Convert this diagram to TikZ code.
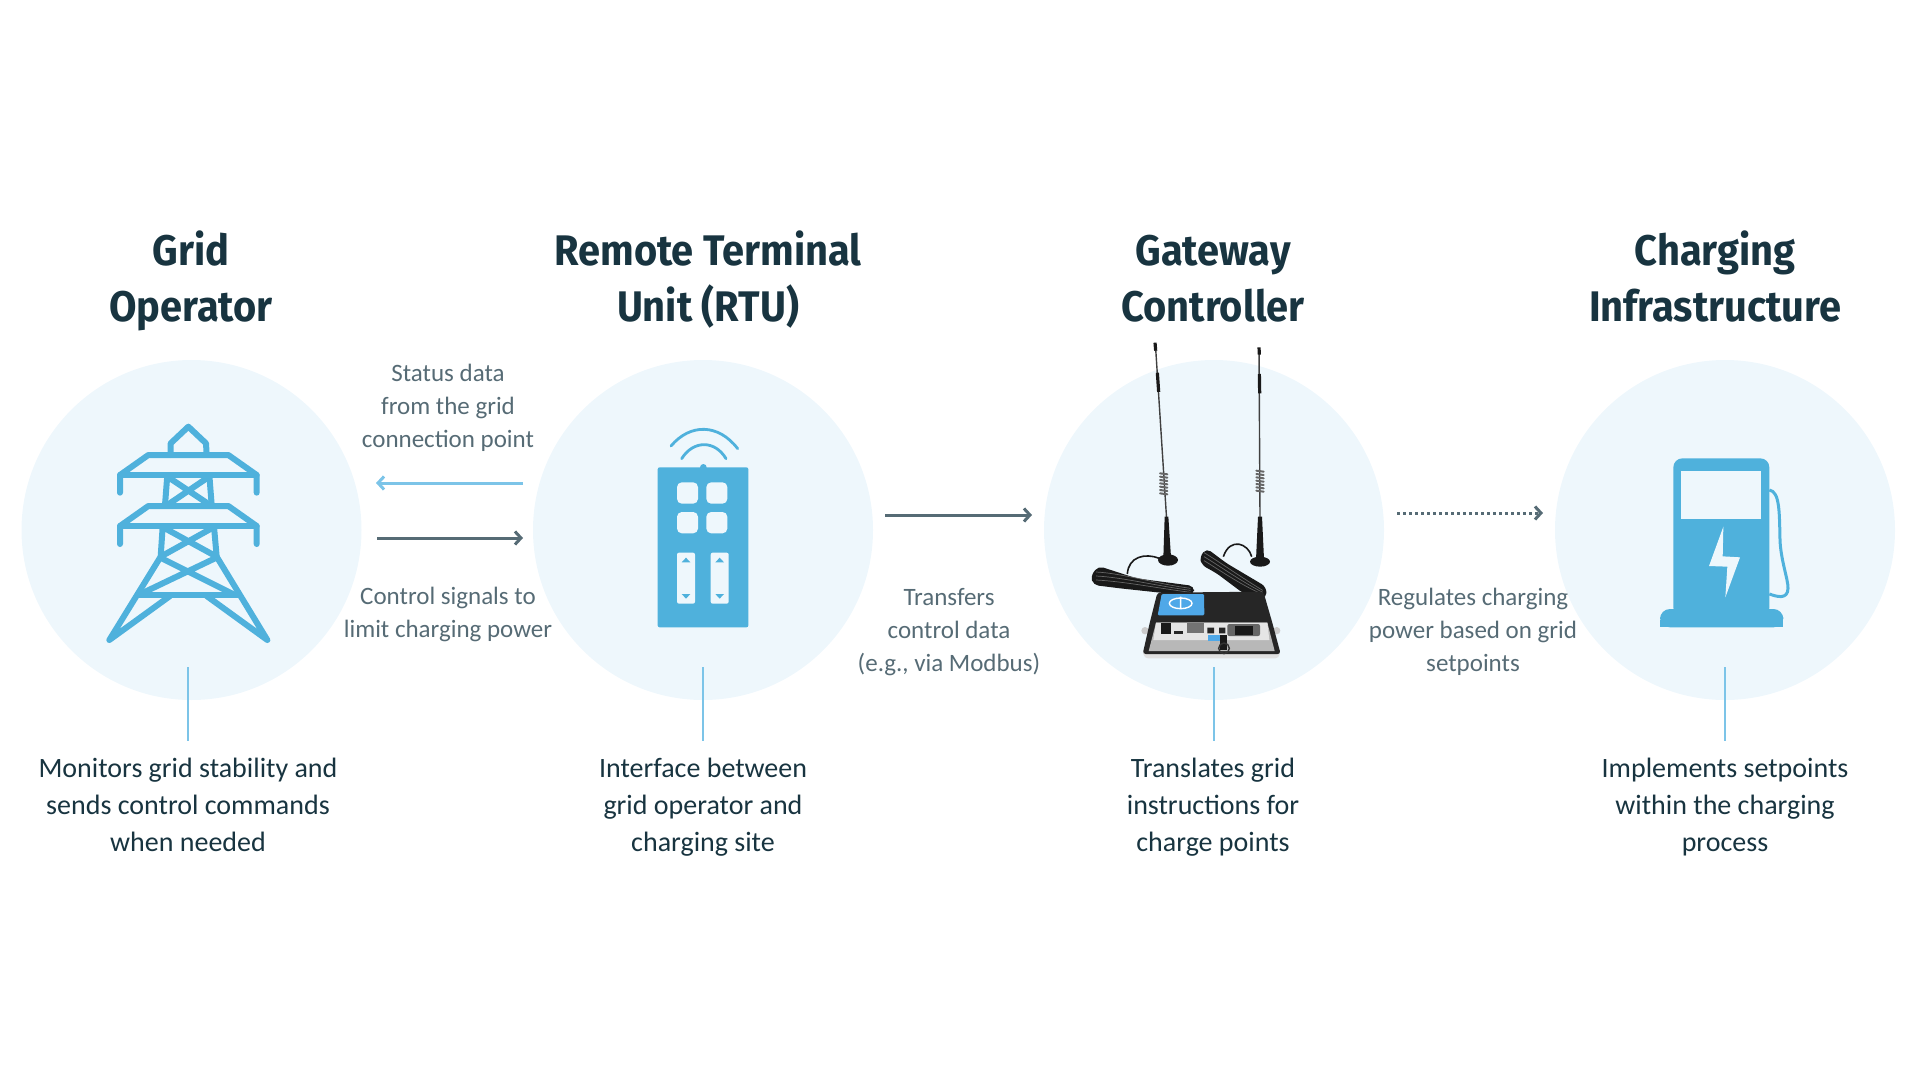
\documentclass[tikz,border=0pt]{standalone}
\usepackage{fontspec}
\setmainfont{Carlito}
\newfontfamily\titlefont[FakeStretch=0.93]{Fira Sans}
\usetikzlibrary{arrows.meta}
\definecolor{disc}{HTML}{EEF7FC}
\definecolor{iconblue}{HTML}{4FB1DC}
\definecolor{inkdark}{HTML}{183440}
\definecolor{inkgrey}{HTML}{566B75}
\definecolor{arrowblue}{HTML}{7CC4E8}
\definecolor{labelblue}{HTML}{4FA8E8}
\tikzset{
  x=0.5pt, y=-0.5pt,
  disc_n/.style = {circle, fill=disc, minimum size=170pt, inner sep=0pt},
  title_n/.style = {align=center, inner sep=0pt, text=inkdark, font=\titlefont\bfseries\fontsize{21.4}{28}\selectfont},
  body_n/.style = {align=center, inner sep=0pt, text=inkdark, font=\fontsize{14}{18.4}\selectfont},
  note_n/.style = {align=center, inner sep=0pt, text=inkgrey, font=\fontsize{12.5}{16.5}\selectfont},
  leader/.style = {draw=arrowblue, line width=0.6pt},
  flow/.style = {draw=inkgrey, line width=1.5pt, -{Straight Barb[length=3pt,width=6.5pt,line width=1.5pt]}},
  back/.style = {flow, draw=arrowblue},
  zoomed/.style = {x=0.16667pt, y=-0.16667pt},
  bar/.style = {draw=iconblue, line width=3pt, line cap=round, line join=round},
  cable/.style = {draw=black!60, line width=0.35pt},
  bundle/.style = {fill=black!90, rounded corners=2.5pt}
}
\begin{document}
\begin{tikzpicture}
	\useasboundingbox (0,0) rectangle (1920,1080);
	% discs
	\node [disc_n] (disc1) at (191.5,530) {};
	\node [disc_n] (disc2) at (703,530) {};
	\node [disc_n] (disc3) at (1214,530) {};
	\node [disc_n] (disc4) at (1725,530) {};
	% titles
	\node [title_n] (title1) at (191,281) {Grid\\Operator};
	\node [title_n] (title2) at (708,280) {Remote Terminal\\Unit (RTU)};
	\node [title_n] (title3) at (1213,279) {Gateway\\Controller};
	\node [title_n] (title4) at (1715,277) {Charging\\Infrastructure};
	% descriptions
	\node [body_n] (body1) at (188,805) {Monitors grid stability and\\sends control commands\\when needed};
	\node [body_n] (body2) at (703,807) {Interface between\\grid operator and\\charging site};
	\node [body_n] (body3) at (1213,807) {Translates grid\\instructions for\\charge points};
	\node [body_n] (body4) at (1725,807) {Implements setpoints\\within the charging\\process};
	% notes
	\node [note_n] (status) at (448,408) {Status data\\from the grid\\connection point};
	\node [note_n] (control) at (448,614) {Control signals to\\limit charging power};
	\node [note_n] (transfers) at (949,632) {Transfers\\control data\\(e.g., via Modbus)};
	\node [note_n] (regulates) at (1473,632) {Regulates charging\\power based on grid\\setpoints};
	% leaders
	\foreach \n/\px in {1/188,2/703,3/1214,4/1725}{
		\coordinate (lead\n a) at (\px,667);
		\coordinate (lead\n b) at (\px,741);
		\draw [leader] (lead\n a) -- (lead\n b);
	}
	% arrows
	\coordinate (backa) at (523,483);
	\coordinate (backb) at (376,483);
	\coordinate (ctrla) at (377,538);
	\coordinate (ctrlb) at (523,538);
	\coordinate (dataa) at (885,515);
	\coordinate (datab) at (1032,515);
	\coordinate (rega) at (1397,513);
	\coordinate (regb) at (1543,513);
	\draw [back] (backa) -- (backb);
	\draw [flow] (ctrla) -- (ctrlb);
	\draw [flow] (dataa) -- (datab);
	\draw [flow, dash pattern=on 1.5pt off 1.5pt] (rega) -- (regb);
	% tower
	\begin{scope}[shift={(80,400)}, zoomed]
		\draw [bar] (272,165) -- (272,130) -- (325,80) -- (378,130) -- (380,165);
		\draw [bar] (120,278) -- (120,225) -- (205,165) -- (445,165) -- (530,225) -- (530,278);
		\draw [bar] (120,225) -- (530,225);
		\draw [bar] (262,225) -- (255,315) (388,225) -- (395,315);
		\draw [bar] (270,235) -- (390,315) (380,235) -- (262,315);
		\draw [bar] (120,432) -- (120,378) -- (205,318) -- (445,318) -- (530,378) -- (530,432);
		\draw [bar] (120,378) -- (530,378);
		\draw [bar] (248,380) -- (242,470) -- (88,720) -- (270,588);
		\draw [bar] (402,380) -- (410,470) -- (562,720) -- (380,588);
		\draw [bar] (255,385) -- (410,470) (395,385) -- (242,470);
		\draw [bar] (245,475) -- (465,585) (405,475) -- (175,585);
		\draw [bar] (175,585) -- (475,585);
	\end{scope}
	% remote
	\begin{scope}[shift={(620,410)}, zoomed]
		\fill [iconblue, rounded corners=1pt] (113,172) rectangle (385,652);
		\fill [iconblue] (250,172) circle (10);
		\draw [iconblue, line width=1.4pt, line cap=round] (153,108) .. controls (210,40) and (295,40) .. (353,116);
		\draw [iconblue, line width=1.4pt, line cap=round] (185,146) .. controls (220,90) and (285,90) .. (318,146);
		\foreach \bx in {171,259}{
			\foreach \by in {217,306}{
				\fill [disc, rounded corners=2.4pt] (\bx,\by) rectangle ++(63,64);
			}
		}
		\foreach \bx in {171,272}{
			\fill [disc, rounded corners=1pt] (\bx,428) rectangle ++(54,153);
			\fill [iconblue] (\bx+14,457) -- (\bx+27,443) -- (\bx+40,457) -- cycle;
			\fill [iconblue] (\bx+14,552) -- (\bx+27,566) -- (\bx+40,552) -- cycle;
		}
	\end{scope}
	% gateway
	\begin{scope}[shift={(1070,330)}, zoomed]
		\draw [black!75, line width=0.7pt] (256,40) -- (290,570);
		\draw [black!75, line width=0.7pt] (567,55) -- (570,570);
		\draw [black!90, line width=1.6pt] (255,38) -- (257,62) (262,128) -- (266,186);
		\draw [black!90, line width=1.6pt] (567,52) -- (568,74) (568,132) -- (569,190);
		\foreach \cy in {430,440,...,490}{
			\draw [black!60, line width=1pt, line cap=round] (270,\cy) -- (292,\cy+3);
			\draw [black!60, line width=1pt, line cap=round] (559,\cy-8) -- (581,\cy-5);
		}
		\fill [black!90] (284,560) -- (295,560) -- (303,682) -- (280,682) -- cycle;
		\fill [black!90] (564,560) -- (576,560) -- (582,688) -- (558,688) -- cycle;
		\fill [black!90] (294,690) ellipse (30 and 17);
		\fill [black!90] (570,695) ellipse (30 and 15);
		\draw [black!90, line width=0.8pt] (268,685) .. controls (225,668) and (175,680) .. (172,732);
		\draw [black!90, line width=0.8pt] (545,680) .. controls (535,640) and (480,620) .. (460,680);
		\fill [bundle] (62,738) -- (85,708) -- (200,745) -- (372,768) -- (372,794) -- (290,790) -- (150,775) -- (70,765) -- cycle;
		\fill [bundle] (389,680) -- (410,655) -- (470,700) -- (588,770) -- (590,804) -- (520,790) -- (440,730) -- (395,705) -- cycle;
		\foreach \off in {-12,0,12}{
			\draw [cable] (78,738+\off) .. controls (160,742+\off) and (260,768+\off/2) .. (362,781+\off/2);
			\draw [cable] (402,680+\off) .. controls (440,702+\off) and (510,752+\off) .. (578,787+\off/2);
		}
		% case
		\fill [black!20] (225,902) circle (11) (620,902) circle (11);
		\fill [black!12, rounded corners=2pt] (218,955) -- (630,955) -- (628,985) -- (222,985) -- cycle;
		\fill [black!85, rounded corners=1.5pt] (262,788) -- (580,785) -- (606,875) -- (632,972) -- (218,972) -- (240,875) -- cycle;
		\fill [black!28] (258,878) -- (592,878) -- (614,963) -- (236,963) -- cycle;
		\fill [black!10] (258,878) -- (592,878) -- (598,930) -- (250,930) -- cycle;
		\fill [labelblue, rounded corners=0.6pt] (275,792) -- (402,792) -- (403,856) -- (263,856) -- cycle;
		\draw [white, line width=0.7pt] (332,820) ellipse (34 and 16) (332,800) -- (332,838);
		\fill [black!90] (273,878) rectangle (303,912);
		\fill [black!85] (312,902) rectangle (338,913);
		\fill [black!55] (350,880) rectangle (402,910);
		\fill [black!85] (412,893) rectangle (432,910) (447,893) rectangle (466,910);
		\fill [black!60, rounded corners=1pt] (472,882) rectangle (570,918);
		\fill [black!90] (495,888) rectangle (548,915);
		\fill [labelblue] (414,915) rectangle (450,932);
		\fill [black!90] (450,915) rectangle (472,960);
		\draw [black!80, line width=0.7pt] (462,955) circle (16);
	\end{scope}
	% pump
	\begin{scope}[shift={(1640,440)}, zoomed]
		\draw [iconblue, line width=1.5pt] (388,150) .. controls (420,155) and (418,220) .. (420,300) .. controls (422,360) and (445,420) .. (444,445) .. controls (443,480) and (410,470) .. (388,462);
		\fill [iconblue, rounded corners=4.5pt] (100,530) -- (100,55) -- (388,55) -- (388,530) -- cycle;
		\fill [iconblue, rounded corners=5pt] (60,562) -- (60,507) -- (430,507) -- (430,562) -- cycle;
		\fill [iconblue] (60,540) rectangle (430,562);
		\fill [disc] (124,93) rectangle (364,238);
		\fill [disc] (250,260) -- (207,378) -- (262,380) -- (256,472) -- (300,352) -- (248,349) -- cycle;
	\end{scope}
\end{tikzpicture}
\end{document}
